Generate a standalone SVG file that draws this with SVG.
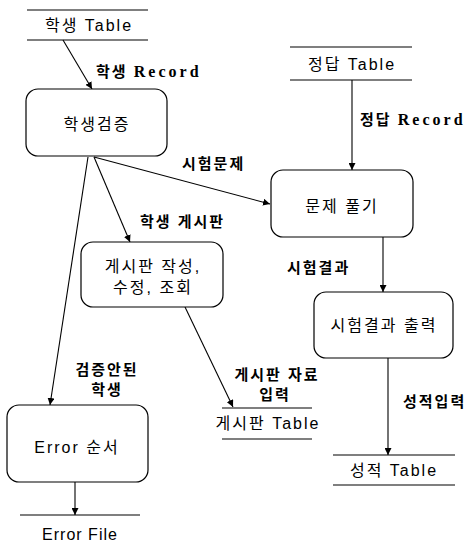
<svg xmlns="http://www.w3.org/2000/svg" width="476" height="544" viewBox="0 0 476 544">
<defs>
<marker id="ah" viewBox="0 0 10 10" refX="10" refY="5" markerWidth="7" markerHeight="7" orient="auto" markerUnits="userSpaceOnUse">
<path d="M0,0 L10,5 L0,10 z" fill="#000"/>
</marker>
<style>
.box{fill:#fff;stroke:#000;stroke-width:1.2}
.st{stroke:#000;stroke-width:1.2}
.c{stroke:#000;stroke-width:1.1;fill:none;marker-end:url(#ah)}
text{font-family:"Liberation Sans","Noto Sans CJK KR",sans-serif;fill:#000}
.n{font-size:16px;letter-spacing:2px;text-anchor:middle}
.l{font-size:15px;font-weight:bold;letter-spacing:2px}
.r{font-family:"Liberation Serif","Noto Sans CJK KR",serif;font-size:16px;letter-spacing:3px}
</style>
</defs>
<rect width="476" height="544" fill="#fff"/>
<g id="connectors">
<line class="c" x1="63" y1="40" x2="92" y2="89"/>
<line class="c" x1="352" y1="80" x2="352" y2="170"/>
<line class="c" x1="94" y1="157" x2="270" y2="204"/>
<line class="c" x1="94" y1="157" x2="130" y2="242"/>
<line class="c" x1="88" y1="157" x2="50" y2="405"/>
<line class="c" x1="185" y1="307" x2="233" y2="407"/>
<line class="c" x1="383" y1="237" x2="383" y2="292"/>
<line class="c" x1="388" y1="358" x2="388" y2="455"/>
<line class="c" x1="75" y1="482" x2="75" y2="515"/>
</g>
<g id="labels">
<text class="l" x="96" y="77">학생 <tspan class="r">Record</tspan></text>
<text class="l" x="360" y="125">정답 <tspan class="r">Record</tspan></text>
<text class="l" x="182" y="169">시험문제</text>
<text class="l" x="140" y="227">학생 게시판</text>
<text class="l" x="287" y="273">시험결과</text>
<text class="l" x="277" y="380" text-anchor="middle">게시판 자료</text>
<text class="l" x="275" y="400" text-anchor="middle">입력</text>
<text class="l" x="107" y="375" text-anchor="middle">검증안된</text>
<text class="l" x="107" y="395" text-anchor="middle">학생</text>
<text class="l" x="403" y="407">성적입력</text>
</g>
<g id="student-table">
<line class="st" x1="27" y1="10" x2="148" y2="10"/>
<line class="st" x1="27" y1="40" x2="148" y2="40"/>
<text class="n" x="89" y="31">학생 Table</text>
</g>
<g id="answer-table">
<line class="st" x1="290" y1="47" x2="412" y2="47"/>
<line class="st" x1="290" y1="80" x2="412" y2="80"/>
<text class="n" x="352" y="70">정답 Table</text>
</g>
<g id="verify">
<rect class="box" x="26" y="89" width="141" height="67" rx="12"/>
<text class="n" x="97" y="130">학생검증</text>
</g>
<g id="solve">
<rect class="box" x="271" y="170" width="142" height="67" rx="12"/>
<text class="n" x="342" y="212">문제 풀기</text>
</g>
<g id="board">
<rect class="box" x="81" y="242" width="142" height="65" rx="12"/>
<text class="n" x="153" y="272">게시판 작성,</text>
<text class="n" x="153" y="293">수정, 조회</text>
</g>
<g id="result">
<rect class="box" x="314" y="292" width="139" height="66" rx="12"/>
<text class="n" x="384" y="331">시험결과 출력</text>
</g>
<g id="board-table">
<line class="st" x1="222" y1="408" x2="312" y2="408"/>
<line class="st" x1="222" y1="439" x2="312" y2="439"/>
<text class="n" x="268" y="429">게시판 Table</text>
</g>
<g id="score-table">
<line class="st" x1="333" y1="455" x2="455" y2="455"/>
<line class="st" x1="333" y1="485" x2="455" y2="485"/>
<text class="n" x="394" y="476">성적 Table</text>
</g>
<g id="error">
<rect class="box" x="7" y="405" width="141" height="77" rx="12"/>
<text class="n" x="77" y="453">Error 순서</text>
</g>
<g id="error-file">
<line class="st" x1="20" y1="515" x2="140" y2="515"/>
<text class="n" x="80" y="540" style="letter-spacing:1px">Error File</text>
</g>
</svg>
